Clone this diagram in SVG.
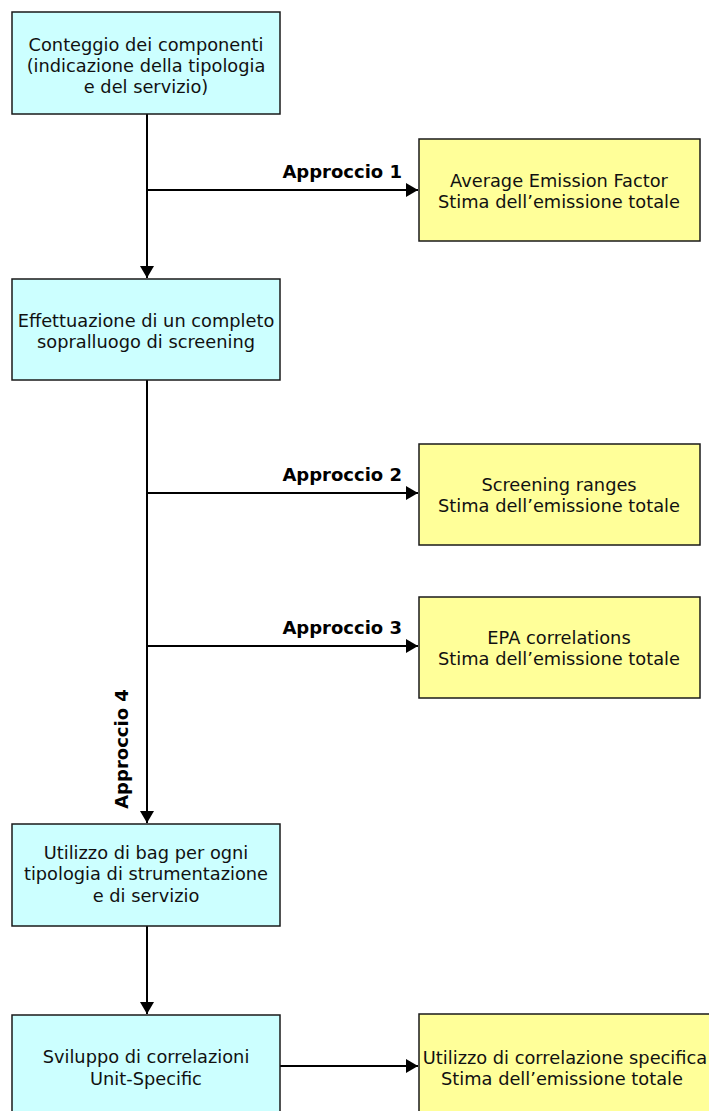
<svg xmlns="http://www.w3.org/2000/svg" width="709" height="1111" viewBox="0 0 709 1111">
<defs>
<marker id="ah" markerUnits="userSpaceOnUse" markerWidth="13" markerHeight="14" refX="12" refY="7" orient="auto">
<path d="M0,0 L12,7 L0,14 z" fill="#000"/>
</marker>
<style>
.c{fill:#ccffff;stroke:#1a1a1a;stroke-width:1.5}
.y{fill:#ffff99;stroke:#1a1a1a;stroke-width:1.5}
.t{font-family:"DejaVu Sans",Verdana,sans-serif;font-size:17.8px;fill:#111;text-anchor:middle}
.b{font-family:"DejaVu Sans",Verdana,sans-serif;font-size:18px;font-weight:bold;fill:#000}
.l{stroke:#000;stroke-width:2;fill:none}
</style>
</defs>
<rect width="709" height="1111" fill="#fff"/>
<g id="connectors">
<line class="l" x1="147" y1="114" x2="147" y2="278" marker-end="url(#ah)"/>
<line class="l" x1="147" y1="190" x2="418" y2="190" marker-end="url(#ah)"/>
<line class="l" x1="147" y1="380" x2="147" y2="823" marker-end="url(#ah)"/>
<line class="l" x1="147" y1="493" x2="418" y2="493" marker-end="url(#ah)"/>
<line class="l" x1="147" y1="646" x2="418" y2="646" marker-end="url(#ah)"/>
<line class="l" x1="147" y1="926" x2="147" y2="1014" marker-end="url(#ah)"/>
<line class="l" x1="280" y1="1066" x2="418" y2="1066" marker-end="url(#ah)"/>
<text class="b" x="402" y="178" text-anchor="end">Approccio 1</text>
<text class="b" x="402" y="481" text-anchor="end">Approccio 2</text>
<text class="b" x="402" y="634" text-anchor="end">Approccio 3</text>
<text class="b" transform="translate(128,749) rotate(-90)" text-anchor="middle">Approccio 4</text>
</g>
<g id="n1">
<rect class="c" x="12" y="12" width="268" height="102"/>
<text class="t" x="146" y="50.5">Conteggio dei componenti</text>
<text class="t" x="146" y="72">(indicazione della tipologia</text>
<text class="t" x="146" y="93">e del servizio)</text>
</g>
<g id="n2">
<rect class="y" x="419" y="139" width="281" height="102"/>
<text class="t" x="559" y="187">Average Emission Factor</text>
<text class="t" x="559" y="208">Stima dell’emissione totale</text>
</g>
<g id="n3">
<rect class="c" x="12" y="279" width="268" height="101"/>
<text class="t" x="146" y="327">Effettuazione di un completo</text>
<text class="t" x="146" y="348">sopralluogo di screening</text>
</g>
<g id="n4">
<rect class="y" x="419" y="444" width="281" height="101"/>
<text class="t" x="559" y="491">Screening ranges</text>
<text class="t" x="559" y="512">Stima dell’emissione totale</text>
</g>
<g id="n5">
<rect class="y" x="419" y="597" width="281" height="101"/>
<text class="t" x="559" y="644">EPA correlations</text>
<text class="t" x="559" y="665">Stima dell’emissione totale</text>
</g>
<g id="n6">
<rect class="c" x="12" y="824" width="268" height="102"/>
<text class="t" x="146" y="858.5">Utilizzo di bag per ogni</text>
<text class="t" x="146" y="880">tipologia di strumentazione</text>
<text class="t" x="146" y="901.5">e di servizio</text>
</g>
<g id="n7">
<rect class="c" x="12" y="1015" width="268" height="110"/>
<text class="t" x="146" y="1063">Sviluppo di correlazioni</text>
<text class="t" x="146" y="1085">Unit-Specific</text>
</g>
<g id="n8">
<rect class="y" x="419" y="1014" width="320" height="110"/>
<text class="t" x="565" y="1064">Utilizzo di correlazione specifica</text>
<text class="t" x="562" y="1085">Stima dell’emissione totale</text>
</g>
</svg>
